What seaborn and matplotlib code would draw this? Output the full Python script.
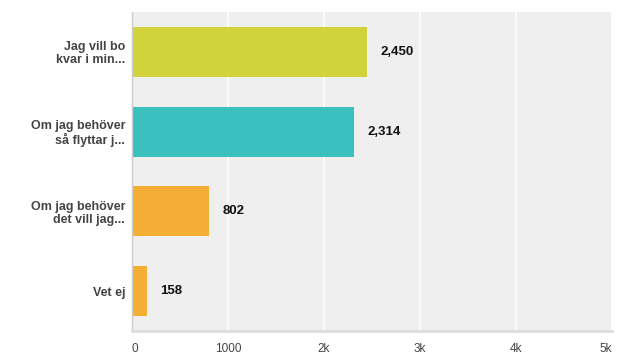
import matplotlib
matplotlib.use("Agg")
import matplotlib.pyplot as plt
import seaborn as sns
import pandas as pd

categories = ["Jag vill bo\nkvar i min...", "Om jag behöver\nså flyttar j...",
              "Om jag behöver\ndet vill jag...", "Vet ej"]
values = [2450, 2314, 802, 158]
value_labels = ["2,450", "2,314", "802", "158"]
colors = ["#d1d33c", "#3cbfbf", "#f5ae35", "#f5ae35"]
xticks = [0, 1000, 2000, 3000, 4000, 5000]
xtick_labels = ["0", "1000", "2k", "3k", "4k", "5k"]

sns.set_theme(style="white")
plt.rcParams["font.family"] = ["Liberation Sans", "DejaVu Sans"]

df = pd.DataFrame({"cat": categories, "val": values})

fig = plt.figure(figsize=(6.42, 3.64), dpi=100)
ax = fig.add_axes([132/642, 33/364, 480/642, 319/364])
ax.set_facecolor("#efefef")

sns.barplot(data=df, x="val", y="cat", hue="cat", palette=colors, orient="h",
            width=0.625, legend=False, ax=ax, saturation=1, linewidth=0)

ax.set_xlim(0, 5000)
ax.set_ylim(3.5, -0.5)
ax.set_xticks(xticks)
ax.set_xticklabels(xtick_labels, fontsize=8.5, color="#444444")
lbls = ax.get_xticklabels()
lbls[0].set_horizontalalignment("left")
lbls[-1].set_horizontalalignment("right")
ax.tick_params(axis="x", length=0, pad=9)
ax.tick_params(axis="y", length=0, pad=5)
for t in ax.get_yticklabels():
    t.set_fontweight("bold")
    t.set_fontsize(9)
    t.set_color("#444444")
    t.set_linespacing(1.1)
ax.set_xlabel("")
ax.set_ylabel("")

ax.grid(axis="x", color="white", linewidth=1.2)
ax.set_axisbelow(True)
for s in ["top", "right"]:
    ax.spines[s].set_visible(False)
ax.spines["left"].set_color("#cccccc")
ax.spines["left"].set_linewidth(1)
ax.spines["bottom"].set_color("#dddddd")
ax.spines["bottom"].set_linewidth(2)

for i, (v, lab) in enumerate(zip(values, value_labels)):
    ax.annotate(lab, xy=(v, i), xytext=(9.5, 0), textcoords="offset points",
                va="center", ha="left", fontsize=9.5, fontweight="bold", color="#111111")

fig.savefig("out.png", dpi=100)
